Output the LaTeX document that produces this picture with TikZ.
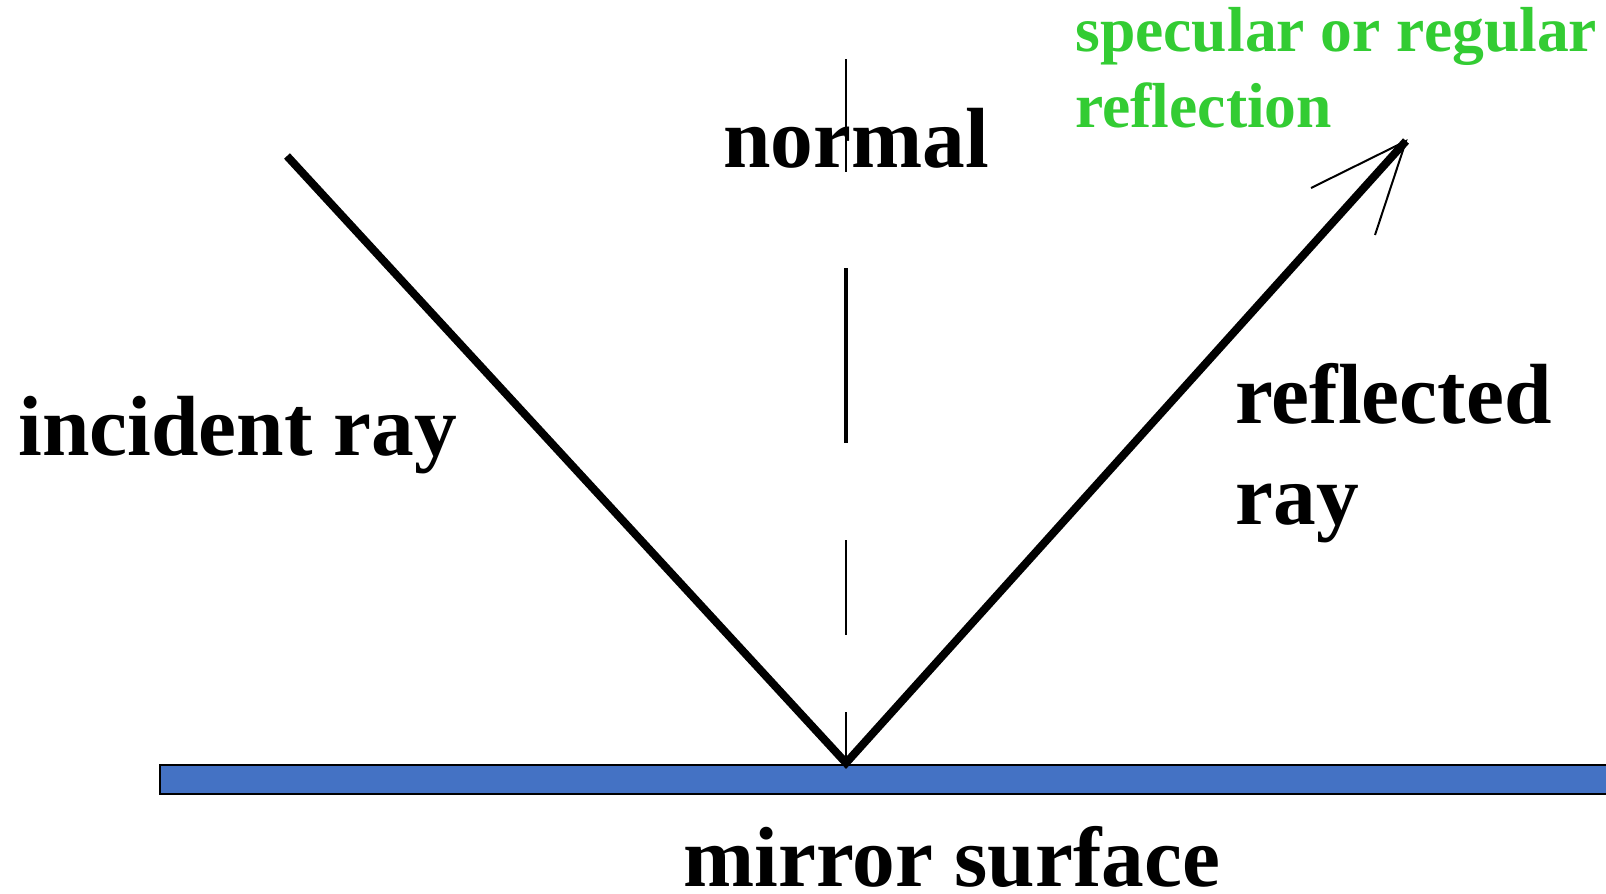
\documentclass[tikz,border=0pt]{standalone}
\usepackage{fontspec}
\setmainfont{Liberation Serif}
\definecolor{mirrorblue}{RGB}{68,114,196}
\definecolor{specgreen}{RGB}{51,204,51}
\begin{document}
\begin{tikzpicture}[x=0.5pt,y=-0.5pt,
  lbl/.style={anchor=base west,inner sep=0pt,font=\fontsize{42.7}{50}\selectfont\bfseries},
  glbl/.style={anchor=base west,inner sep=0pt,text=specgreen,font=\fontsize{31.8}{38}\selectfont\bfseries},
  ray/.style={line width=4pt,line cap=butt},
  wing/.style={line width=1pt},
  thinnormal/.style={line width=0.75pt},
  thicknormal/.style={line width=1.75pt}]
\useasboundingbox (0,0) rectangle (1606,894);
\clip (0,0) rectangle (1606,894);
\fill[white] (0,0) rectangle (1606,894);
% mirror
\draw[fill=mirrorblue,line width=1pt] (160,765) rectangle (1640,794);
% coordinates
\coordinate (A) at (846,763);
\coordinate (I) at (287,156);
\coordinate (R) at (1406,141);
\coordinate (W1) at (1311,188);
\coordinate (W2) at (1375,235);
\coordinate (N1a) at (846,59);  \coordinate (N1b) at (846,172);
\coordinate (N2a) at (846,268); \coordinate (N2b) at (846,443);
\coordinate (N3a) at (846,540); \coordinate (N3b) at (846,635);
\coordinate (N4a) at (846,712); \coordinate (N4b) at (846,758);
% labels
\node[lbl] (normal) at (723,167) {normal};
\node[lbl] (incident) at (18,455) {incident ray};
\node[lbl] (refl1) at (1235,423) {reflected};
\node[lbl] (refl2) at (1235,524) {ray};
\node[lbl] (mirror) at (683,886) {mirror surface};
\node[glbl] (spec1) at (1075,51) {specular or regular};
\node[glbl] (spec2) at (1075,127) {reflection};
% normal
\draw[thinnormal] (N1a) -- (N1b);
\draw[thicknormal] (N2a) -- (N2b);
\draw[thinnormal] (N3a) -- (N3b);
\draw[thinnormal] (N4a) -- (N4b);
% rays
\draw[ray] (I) -- (A) -- (R);
\draw[wing] (W1) -- (R) -- (W2);
\end{tikzpicture}
\end{document}
